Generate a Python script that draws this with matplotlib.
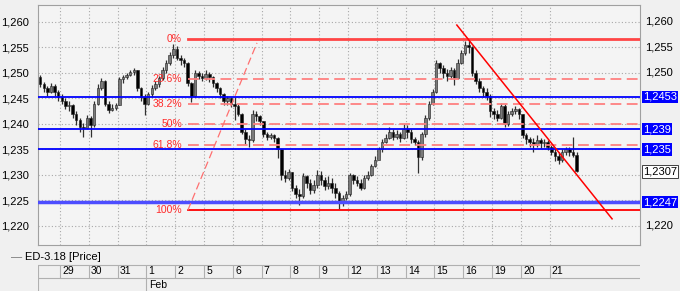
import matplotlib.pyplot as plt
import numpy as np

plt.rcParams['font.family'] = ['Liberation Sans', 'DejaVu Sans']

days = ['29', '30', '31', '1', '2', '5', '6', '7', '8', '9', '12', '13', '14', '15', '16', '19', '20', '21']
month_label = 'Feb'
series_name = 'ED-3.18 [Price]'

# prices in pips over 1.0000; 6 bars of 26 Jan tail, then 8 bars per day
first_open = 2492
closes = [2478, 2470, 2462, 2475, 2462, 2452,
          2445, 2436, 2438, 2420, 2408, 2395, 2392, 2412,
          2398, 2440, 2470, 2484, 2440, 2428, 2432, 2438,
          2488, 2492, 2497, 2502, 2505, 2470, 2452, 2440,
          2458, 2470, 2478, 2490, 2505, 2520, 2535, 2548,
          2530, 2525, 2520, 2480, 2455, 2500, 2495, 2490,
          2498, 2492, 2480, 2470, 2458, 2445, 2450, 2440,
          2435, 2420, 2385, 2370, 2368, 2420, 2415, 2405,
          2380, 2375, 2378, 2372, 2350, 2300, 2295, 2305,
          2275, 2262, 2258, 2298, 2285, 2270, 2280, 2300,
          2290, 2278, 2285, 2275, 2265, 2245, 2255, 2262,
          2300, 2290, 2285, 2275, 2295, 2300, 2318, 2330,
          2350, 2365, 2372, 2385, 2375, 2380, 2372, 2390,
          2385, 2370, 2365, 2335, 2380, 2412, 2440, 2462,
          2520, 2510, 2500, 2495, 2505, 2490, 2520, 2540,
          2555, 2550, 2500, 2485, 2470, 2462, 2455, 2425,
          2420, 2412, 2435, 2400, 2420, 2425, 2430, 2420,
          2378, 2370, 2365, 2360, 2368, 2362, 2365, 2355,
          2345, 2338, 2330, 2345, 2350, 2345, 2340, 2307]
highs = [2497, 2482, 2474, 2480, 2478, 2466,
         2458, 2450, 2446, 2440, 2425, 2412, 2402, 2418,
         2415, 2445, 2478, 2490, 2486, 2445, 2440, 2442,
         2492, 2497, 2500, 2506, 2510, 2506, 2472, 2458,
         2462, 2476, 2484, 2495, 2512, 2526, 2542, 2556,
         2552, 2535, 2530, 2522, 2482, 2506, 2504, 2500,
         2506, 2502, 2495, 2482, 2472, 2460, 2455, 2453,
         2452, 2440, 2422, 2390, 2378, 2428, 2426, 2418,
         2406, 2385, 2382, 2380, 2374, 2350, 2310, 2312,
         2305, 2280, 2272, 2304, 2300, 2292, 2290, 2310,
         2308, 2296, 2298, 2295, 2285, 2268, 2260, 2268,
         2304, 2302, 2298, 2292, 2300, 2308, 2322, 2338,
         2355, 2370, 2380, 2394, 2390, 2388, 2385, 2400,
         2398, 2390, 2375, 2368, 2385, 2418, 2445, 2468,
         2525, 2522, 2515, 2508, 2512, 2510, 2528, 2545,
         2562, 2565, 2552, 2505, 2490, 2475, 2470, 2458,
         2432, 2428, 2442, 2440, 2425, 2432, 2435, 2432,
         2420, 2382, 2375, 2372, 2378, 2372, 2370, 2368,
         2358, 2352, 2345, 2350, 2355, 2355, 2375, 2345]
lows = [2472, 2462, 2455, 2460, 2455, 2446,
        2440, 2430, 2425, 2412, 2398, 2385, 2375, 2390,
        2374, 2395, 2438, 2466, 2435, 2422, 2425, 2428,
        2437, 2480, 2488, 2494, 2496, 2465, 2445, 2418,
        2438, 2452, 2466, 2472, 2486, 2500, 2515, 2530,
        2525, 2515, 2512, 2475, 2443, 2452, 2488, 2484,
        2486, 2482, 2472, 2462, 2450, 2437, 2438, 2433,
        2408, 2415, 2380, 2360, 2355, 2365, 2405, 2398,
        2374, 2368, 2370, 2365, 2333, 2290, 2286, 2290,
        2268, 2255, 2242, 2255, 2275, 2262, 2265, 2275,
        2280, 2270, 2272, 2265, 2255, 2233, 2240, 2250,
        2258, 2282, 2278, 2270, 2272, 2290, 2298, 2315,
        2335, 2345, 2362, 2370, 2368, 2370, 2365, 2370,
        2372, 2362, 2358, 2304, 2330, 2375, 2408, 2438,
        2460, 2500, 2490, 2485, 2488, 2476, 2488, 2518,
        2535, 2540, 2495, 2478, 2462, 2452, 2448, 2414,
        2410, 2405, 2410, 2394, 2396, 2415, 2420, 2410,
        2372, 2360, 2355, 2345, 2355, 2352, 2355, 2348,
        2340, 2328, 2322, 2325, 2340, 2338, 2335, 2305]

levels = [1.2453, 1.239, 1.235, 1.2247]
level_labels = ['1,2453', '1,239', '1,235', '1,2247']
last_price = 1.2307
right_ticks = [1.260, 1.255, 1.250, 1.220]
fib_high = 1.2567
fib_low = 1.2231
fib_ratios = [0, 0.236, 0.382, 0.5, 0.618, 1.0]
fib_labels = ['0%', '23.6%', '38.2%', '50%', '61.8%', '100%']
fib_leg_x = [4.44, 6.84]
fib_leg_y = [1.2231, 1.2559]
trend_x = [13.78, 19.17]
trend_y = [1.2594, 1.2214]

c = 1 + np.array(closes) / 10000
h = 1 + np.array(highs) / 10000
l = 1 + np.array(lows) / 10000
o = np.concatenate([[1 + first_open / 10000], c[:-1]])
x = (np.arange(len(c)) - 6 + 0.5) / 8

fig = plt.figure(figsize=(6.8, 2.91), dpi=100, facecolor='#f0f0f0')
ax = fig.add_axes([38 / 680, 1 - 245 / 291, 602 / 680, 240 / 291], facecolor='#f4f4f4')
ax.set_xlim(-0.764, 20.14)
ax.set_ylim(1.21627, 1.26333)

for d in range(len(days)):
    ax.axvline(d, color='#a8a8a8', lw=0.8, ls=(0, (1, 2)), zorder=0)
yt = np.arange(1.220, 1.2601, 0.005)
for y in yt:
    ax.axhline(y, color='#a8a8a8', lw=0.8, ls=(0, (1, 2)), zorder=0)

up = c >= o
cols = np.where(up, '#7a7a7a', '#000000')
ax.vlines(x, l, h, colors='#303030', lw=0.9, zorder=3)
body = np.maximum(np.abs(c - o), 0.00008)
ax.bar(x, body, bottom=np.minimum(o, c), width=0.09, color=cols, edgecolor='#202020',
       lw=0.4, zorder=3)

# support / resistance lines
for lv in levels[:3]:
    ax.axhline(lv, color='#0000ff', lw=1.3, zorder=4)
ax.axhline(levels[3], color='#4d4dff', lw=2.5, zorder=4)

# fibonacci retracement
span = fib_high - fib_low
for r, lab in zip(fib_ratios, fib_labels):
    y = fib_high - r * span
    if r == 0:
        ax.plot([4.44, 20.14], [y, y], color='#ff4545', lw=2, zorder=4)
    elif r == 1:
        ax.plot([4.44, 20.14], [y, y], color='#ff0000', lw=1.3, zorder=4)
    else:
        ax.plot([4.44, 20.14], [y, y], color='#ff8080', lw=1.3, ls=(0, (6, 3)), zorder=4)
    ax.text(4.24, y, lab, color='#ff2a2a', fontsize=7.5, ha='right', va='center', zorder=5)
ax.plot(fib_leg_x, fib_leg_y, color='#ff7070', lw=0.9, ls=(0, (6, 3)), zorder=4)
ax.plot(trend_x, trend_y, color='#ff0000', lw=1.1, zorder=4)

ax.set_xticks([])
ax.set_yticks(yt)
ax.set_yticklabels(['1,%03d' % round((v - 1) * 1000) for v in yt])
ax.tick_params(axis='y', left=False, right=False, labelsize=8, pad=3)
for s in ax.spines.values():
    s.set_color('#a0a0a0')
    s.set_linewidth(0.8)

ytf = ax.get_yaxis_transform()
for v in right_ticks:
    ax.text(1.008, v, '1,%03d' % round((v - 1) * 1000), transform=ytf, fontsize=8,
            ha='left', va='center', clip_on=False)
for lv, lab in zip(levels, level_labels):
    ax.text(1.005, lv, lab, transform=ytf, color='white', fontsize=8,
            ha='left', va='center', zorder=6, clip_on=False,
            bbox=dict(boxstyle='square,pad=0.12', fc='#0000ff', ec='none'))
ax.text(1.005, last_price, '1,2307', transform=ytf, color='black', fontsize=8,
        ha='left', va='center', zorder=6, clip_on=False,
        bbox=dict(boxstyle='square,pad=0.12', fc='white', ec='#404040', lw=0.7))

# legend line
fig.text(11 / 680, 1 - 257 / 291, '\u2014', color='#707070', fontsize=8, va='center')
fig.text(25 / 680, 1 - 257 / 291, series_name, color='black', fontsize=8, va='center')

# date table
tb = fig.add_axes([38 / 680, 0, 602 / 680, 28 / 291])
tb.set_xlim(-0.764, 20.14)
tb.set_ylim(0, 28)
tb.axis('off')
tb.axhline(26, color='#b0b0b0', lw=0.8)
tb.axhline(13, color='#b0b0b0', lw=0.8)
tb.vlines([-0.764], 0, 26, color='#b0b0b0', lw=0.8)
tb.vlines(np.arange(len(days)), 13, 26, color='#b0b0b0', lw=0.8)
tb.vlines([3], 0, 13, color='#b0b0b0', lw=0.8)
for d, lab in enumerate(days):
    tb.text(d + 0.08, 19.5, lab, fontsize=7.5, va='center', ha='left')
tb.text(3.08, 6.5, month_label, fontsize=7.5, va='center', ha='left')

fig.savefig('out.png', dpi=100, facecolor=fig.get_facecolor())
